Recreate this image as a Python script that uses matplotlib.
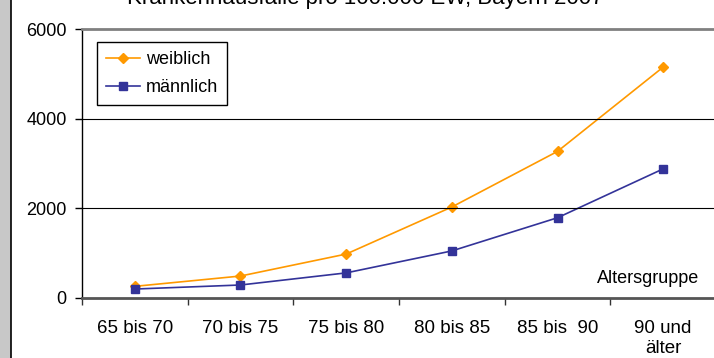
import matplotlib.pyplot as plt
from matplotlib.patches import Rectangle
from matplotlib.lines import Line2D

plt.rcParams['font.family'] = ['Liberation Sans', 'DejaVu Sans']

# age groups and hospital cases per 100.000 inhabitants
gruppen = ['65 bis 70', '70 bis 75', '75 bis 80', '80 bis 85', '85 bis  90', '90 und\nälter']
weiblich = [260, 490, 980, 2030, 3270, 5150]
maennlich = [200, 290, 560, 1050, 1790, 2880]
yticks = [0, 2000, 4000, 6000]

W, H = 714, 358
fig = plt.figure(figsize=(W / 100, H / 100), dpi=100)

# grey strip + black line on the left edge (frame of the sheet)
fig.patches.append(Rectangle((0, 0), 11 / W, 1, transform=fig.transFigure,
                             facecolor='#c8c8c8', edgecolor='none'))
fig.add_artist(Line2D([11.5 / W, 11.5 / W], [0, 1], transform=fig.transFigure,
                      color='black', lw=1.2))

ax = fig.add_axes([82 / W, 1 - 298 / H, 634 / W, 269 / H])
x = range(len(gruppen))
ax.plot(x, weiblich, color='#FF9900', marker='D', markersize=5, lw=1.2, label='weiblich')
ax.plot(x, maennlich, color='#333399', marker='s', markersize=5.5, lw=1.2, label='männlich')

ax.set_xlim(-0.5, len(gruppen) - 0.5)
ax.set_ylim(0, 6000)
ax.set_yticks(yticks)
ax.set_yticklabels([str(v) for v in yticks])
for v in yticks[1:-1]:
    ax.axhline(v, color='black', lw=0.8)

# ticks at category borders, labels in the middle
ax.set_xticks([i - 0.5 for i in range(len(gruppen) + 1)])
ax.set_xticklabels([])
ax.set_xticks(list(x), minor=True)
ax.set_xticklabels(gruppen, minor=True, fontsize=13.5, linespacing=1.3)
ax.tick_params(axis='x', which='major', length=5, width=1, color='#333333')
ax.tick_params(axis='x', which='minor', length=0, pad=15.5)
ax.tick_params(axis='y', length=5, width=1, labelsize=13, pad=6)

ax.spines['right'].set_visible(False)
ax.spines['left'].set_linewidth(1)
ax.spines['bottom'].set_color('#555555')
ax.spines['bottom'].set_linewidth(2)
ax.spines['top'].set_color('#808080')
ax.spines['top'].set_linewidth(2)

leg = ax.legend(loc='upper left', bbox_to_anchor=(97 / W, 1 - 42 / H),
                bbox_transform=fig.transFigure, fontsize=13, fancybox=False,
                edgecolor='black', framealpha=1, borderaxespad=0,
                handlelength=1.9, handletextpad=0.3, borderpad=0.5,
                labelspacing=0.6)
leg.get_frame().set_linewidth(1)

fig.text(597 / W, 1 - 283 / H, 'Altersgruppe', fontsize=13, va='baseline')
fig.text(365 / W, 1 - 4 / H, 'Krankenhausfälle pro 100.000 EW, Bayern 2007',
         fontsize=16, ha='center', va='baseline')

fig.savefig('out.png', dpi=100)
